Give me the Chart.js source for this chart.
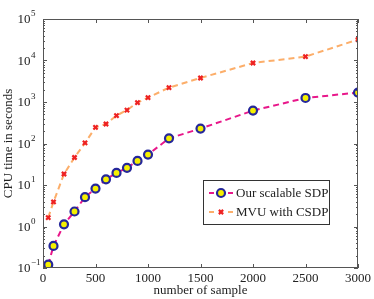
<!DOCTYPE html>
<html>
<head>
<meta charset="utf-8">
<script src="https://cdn.jsdelivr.net/npm/chart.js@4"></script>
<style>
  html, body { margin: 0; padding: 0; background: #fff; }
  #wrap { width: 374px; height: 299px; }
</style>
</head>
<body>
<div id="wrap"><canvas id="myChart" width="374" height="299"></canvas></div>
<script>
const samples = [50, 100, 200, 300, 400, 500, 600, 700, 800, 900, 1000, 1200, 1500, 2000, 2500, 3000];
const scalableSdp = [0.12, 0.34, 1.13, 2.3, 5.1, 8.2, 13.7, 19.5, 26, 38, 54, 133, 229, 620, 1250, 1690];
const mvuCsdp = [1.64, 3.9, 18.4, 46, 103, 245, 295, 470, 640, 970, 1280, 2220, 3790, 8700, 12400, 31900];
const xTicks = [0, 500, 1000, 1500, 2000, 2500, 3000];
const yTickExps = [-1, 0, 1, 2, 3, 4, 5];

const serif = "'Liberation Serif', 'DejaVu Serif', serif";
const axisColor = "#555555";

// MATLAB style frame: inward ticks on all four sides, 10^n labels, legend box
const matlabFrame = {
  id: "matlabFrame",
  afterDraw(chart) {
    const ctx = chart.ctx;
    const a = chart.chartArea;
    const xs = chart.scales.x;
    const ys = chart.scales.y;
    ctx.save();
    ctx.strokeStyle = axisColor;
    ctx.lineWidth = 1;
    ctx.strokeRect(a.left + 0.5, a.top + 0.5, a.right - a.left - 1, a.bottom - a.top - 1);

    ctx.beginPath();
    xTicks.forEach((v) => {
      const px = Math.round(xs.getPixelForValue(v)) + 0.5;
      ctx.moveTo(px, a.bottom); ctx.lineTo(px, a.bottom - 4);
      ctx.moveTo(px, a.top); ctx.lineTo(px, a.top + 4);
    });
    yTickExps.forEach((e) => {
      for (let m = 1; m <= 9; m++) {
        if (e === 5 && m > 1) break;
        const py = Math.round(ys.getPixelForValue(m * Math.pow(10, e))) + 0.5;
        const len = m === 1 ? 4 : 2;
        ctx.moveTo(a.left, py); ctx.lineTo(a.left + len, py);
        ctx.moveTo(a.right, py); ctx.lineTo(a.right - len, py);
      }
    });
    ctx.stroke();

    // y tick labels as 10 with superscript exponent
    ctx.fillStyle = "#222";
    yTickExps.forEach((e) => {
      const py = ys.getPixelForValue(Math.pow(10, e));
      ctx.font = "13px " + serif;
      ctx.textAlign = "right";
      ctx.textBaseline = "middle";
      ctx.fillText("10", 30.5, py + 1);
      ctx.font = "9px " + serif;
      ctx.textAlign = "left";
      ctx.fillText(e < 0 ? "\u2212" + Math.abs(e) : String(e), 31, py - 5);
    });

    // legend box
    const lx = 203, ly = 180, lw = 126, lh = 44;
    ctx.fillStyle = "#fff";
    ctx.fillRect(lx, ly, lw, lh);
    ctx.strokeStyle = "#333";
    ctx.lineWidth = 1;
    ctx.strokeRect(lx + 0.5, ly + 0.5, lw, lh);
    chart.data.datasets.forEach((ds, i) => {
      const cy = ly + 13 + i * 19;
      ctx.strokeStyle = ds.borderColor;
      ctx.lineWidth = 2;
      ctx.beginPath();
      ctx.moveTo(lx + 6, cy); ctx.lineTo(lx + 11, cy);
      ctx.moveTo(lx + 25, cy); ctx.lineTo(lx + 30, cy);
      ctx.stroke();
      ctx.save();
      ctx.fillStyle = ds.pointBackgroundColor;
      ctx.strokeStyle = ds.pointBorderColor;
      ctx.lineWidth = ds.pointBorderWidth;
      Chart.helpers.drawPoint(ctx, {
        pointStyle: ds.pointStyle,
        radius: ds.pointRadius,
        borderWidth: ds.pointBorderWidth,
        rotation: 0,
      }, lx + 18, cy);
      ctx.restore();
      ctx.fillStyle = "#222";
      ctx.font = "13px " + serif;
      ctx.textAlign = "left";
      ctx.textBaseline = "middle";
      ctx.fillText(ds.label, lx + 33, cy + 1);
    });
    ctx.restore();
  },
};

const ctx = document.getElementById("myChart").getContext("2d");
const myChart = new Chart(ctx, {
  type: "line",
  data: {
    datasets: [
      {
        label: "Our scalable SDP",
        data: samples.map((x, i) => ({ x: x, y: scalableSdp[i] })),
        borderColor: "#e8178a",
        borderWidth: 2,
        borderDash: [6, 4],
        pointStyle: "circle",
        pointRadius: 4,
        pointBorderWidth: 2.2,
        pointBorderColor: "#25279a",
        pointBackgroundColor: "#f5f000",
        tension: 0,
      },
      {
        label: "MVU with CSDP",
        data: samples.map((x, i) => ({ x: x, y: mvuCsdp[i] })),
        borderColor: "#fcae6a",
        borderWidth: 2,
        borderDash: [6, 4],
        pointStyle: "crossRot",
        pointRadius: 3,
        pointBorderWidth: 2.2,
        pointBorderColor: "#ee2222",
        pointBackgroundColor: "#ee2222",
        tension: 0,
      },
    ],
  },
  options: {
    responsive: false,
    animation: false,
    layout: { padding: { top: 19, right: 15, left: 0, bottom: 0 } },
    scales: {
      x: {
        type: "linear",
        min: 0,
        max: 3000,
        afterBuildTicks: (scale) => { scale.ticks = xTicks.map((v) => ({ value: v })); },
        afterFit: (scale) => { scale.height = 31; },
        grid: { display: false, drawTicks: false },
        border: { display: false },
        ticks: {
          color: "#222",
          font: { family: serif, size: 13 },
          padding: 3,
          maxRotation: 0,
          callback: (v) => String(v),
        },
        title: { display: true, text: "number of sample", color: "#222", font: { family: serif, size: 13 }, padding: { top: 0, bottom: 1 } },
      },
      y: {
        type: "logarithmic",
        min: 0.1,
        max: 100000,
        afterFit: (scale) => { scale.width = 43; },
        grid: { display: false, drawTicks: false },
        border: { display: false },
        ticks: { display: false },
        title: { display: true, text: "CPU time in seconds", color: "#222", font: { family: serif, size: 13 }, padding: { top: 1, bottom: 0 } },
      },
    },
    plugins: {
      legend: { display: false },
      tooltip: { enabled: false },
    },
  },
  plugins: [matlabFrame],
});
</script>
</body>
</html>
